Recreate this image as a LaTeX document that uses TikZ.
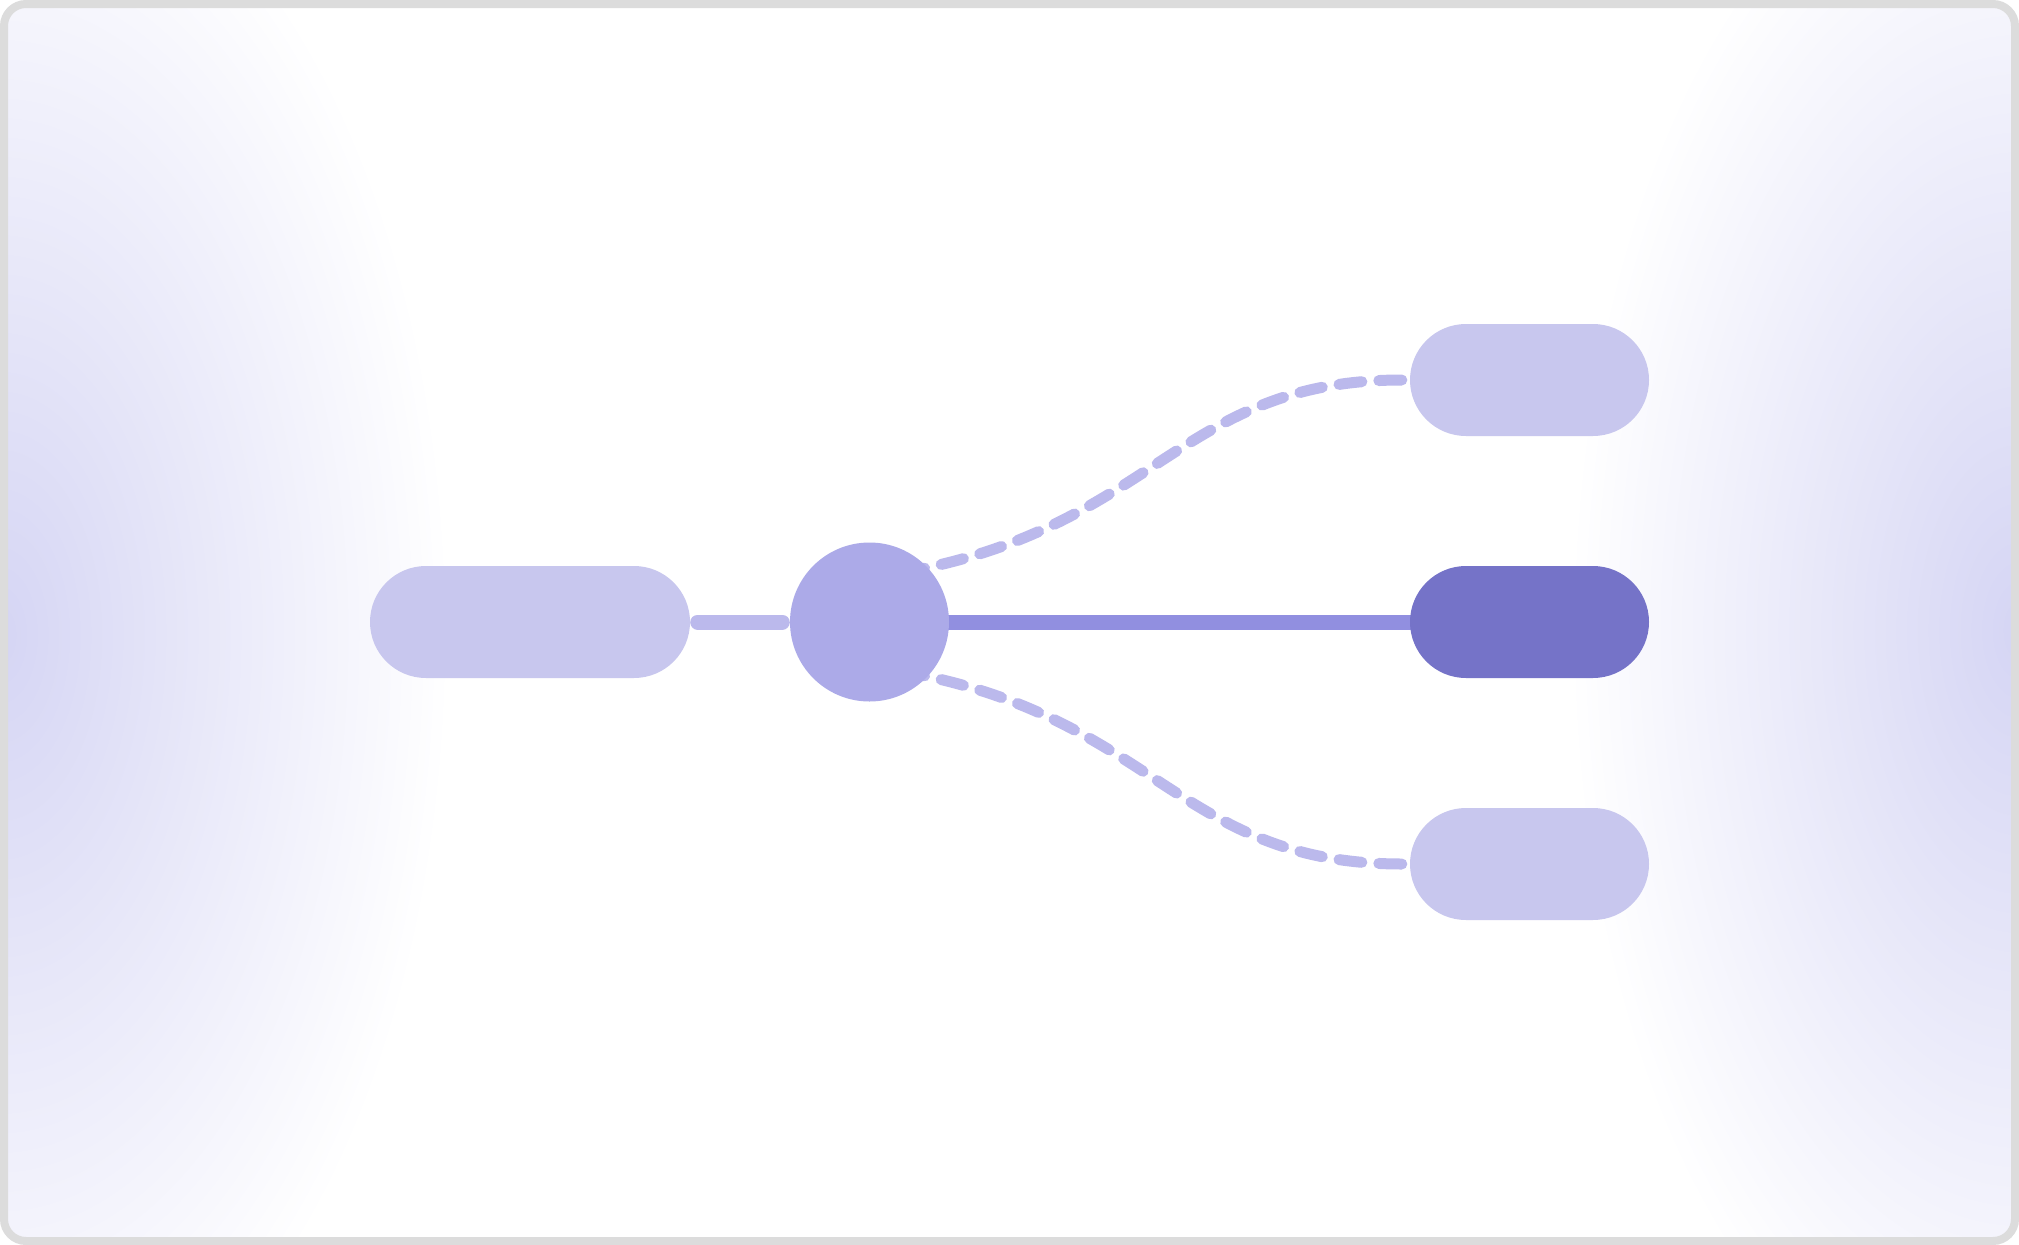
\documentclass[tikz,border=0pt]{standalone}
\usetikzlibrary{calc}
\definecolor{pillc}{HTML}{C8C7EE}
\definecolor{dashc}{HTML}{BBB9EC}
\definecolor{hubc}{HTML}{ACAAE8}
\definecolor{solidc}{HTML}{918FE0}
\definecolor{darkc}{HTML}{7573C8}
\definecolor{framec}{HTML}{DCDCDC}
\definecolor{glowc}{HTML}{D5D5F4}
\pgfdeclarelayer{bg}
\pgfdeclarelayer{conn}
\pgfsetlayers{bg,conn,main}
\begin{document}
\begin{tikzpicture}[x=1pt,y=-1pt,
  pill/.style={rectangle, rounded corners=56pt, minimum width=239pt, minimum height=112pt, inner sep=0pt, draw=none},
  hub/.style={circle, minimum size=159pt, inner sep=0pt, fill=hubc, draw=none},
  dashlink/.style={draw=dashc, line width=11pt, line cap=round, dash pattern=on 23pt off 17pt},
  shortlink/.style={draw=dashc, line width=15pt, line cap=round},
  mainlink/.style={draw=solidc, line width=15pt}]
\useasboundingbox (0,0) rectangle (2019,1245);
\begin{pgfonlayer}{bg}
  \fill[white] (0,0) rectangle (2019,1245);
  \begin{scope}
    \clip[rounded corners=22pt] (4,4) rectangle (2015,1241);
    \shade[inner color=glowc, outer color=white] (0,635) ellipse [x radius=450pt, y radius=820pt];
    \shade[inner color=glowc, outer color=white] (2019,630) ellipse [x radius=450pt, y radius=820pt];
  \end{scope}
  \draw[framec, line width=8pt, rounded corners=22pt] (4,4) rectangle (2015,1241);
\end{pgfonlayer}

\node[pill, fill=pillc, minimum width=320pt] (src) at (530,622) {};
\node[hub] (hub) at (869.5,622) {};
\node[pill, fill=pillc] (top) at (1529.5,380) {};
\node[pill, fill=darkc] (mid) at (1529.5,622) {};
\node[pill, fill=pillc] (bot) at (1529.5,864) {};

\begin{pgfonlayer}{conn}
  \draw[shortlink] ([xshift=7.5pt]src.east) -- ([xshift=-7.5pt]hub.west);
  \draw[mainlink] (hub.center) -- (mid.center);
  \draw[dashlink] ([xshift=-8pt]top.west) .. controls ($(top.west)+(-230,0)$) and ($(hub.center)+(285.5,-95)$) .. ($(hub.center)+(35.5,-50)$);
  \draw[dashlink] ([xshift=-8pt]bot.west) .. controls ($(bot.west)+(-230,0)$) and ($(hub.center)+(285.5,95)$) .. ($(hub.center)+(35.5,50)$);
\end{pgfonlayer}
\end{tikzpicture}
\end{document}
